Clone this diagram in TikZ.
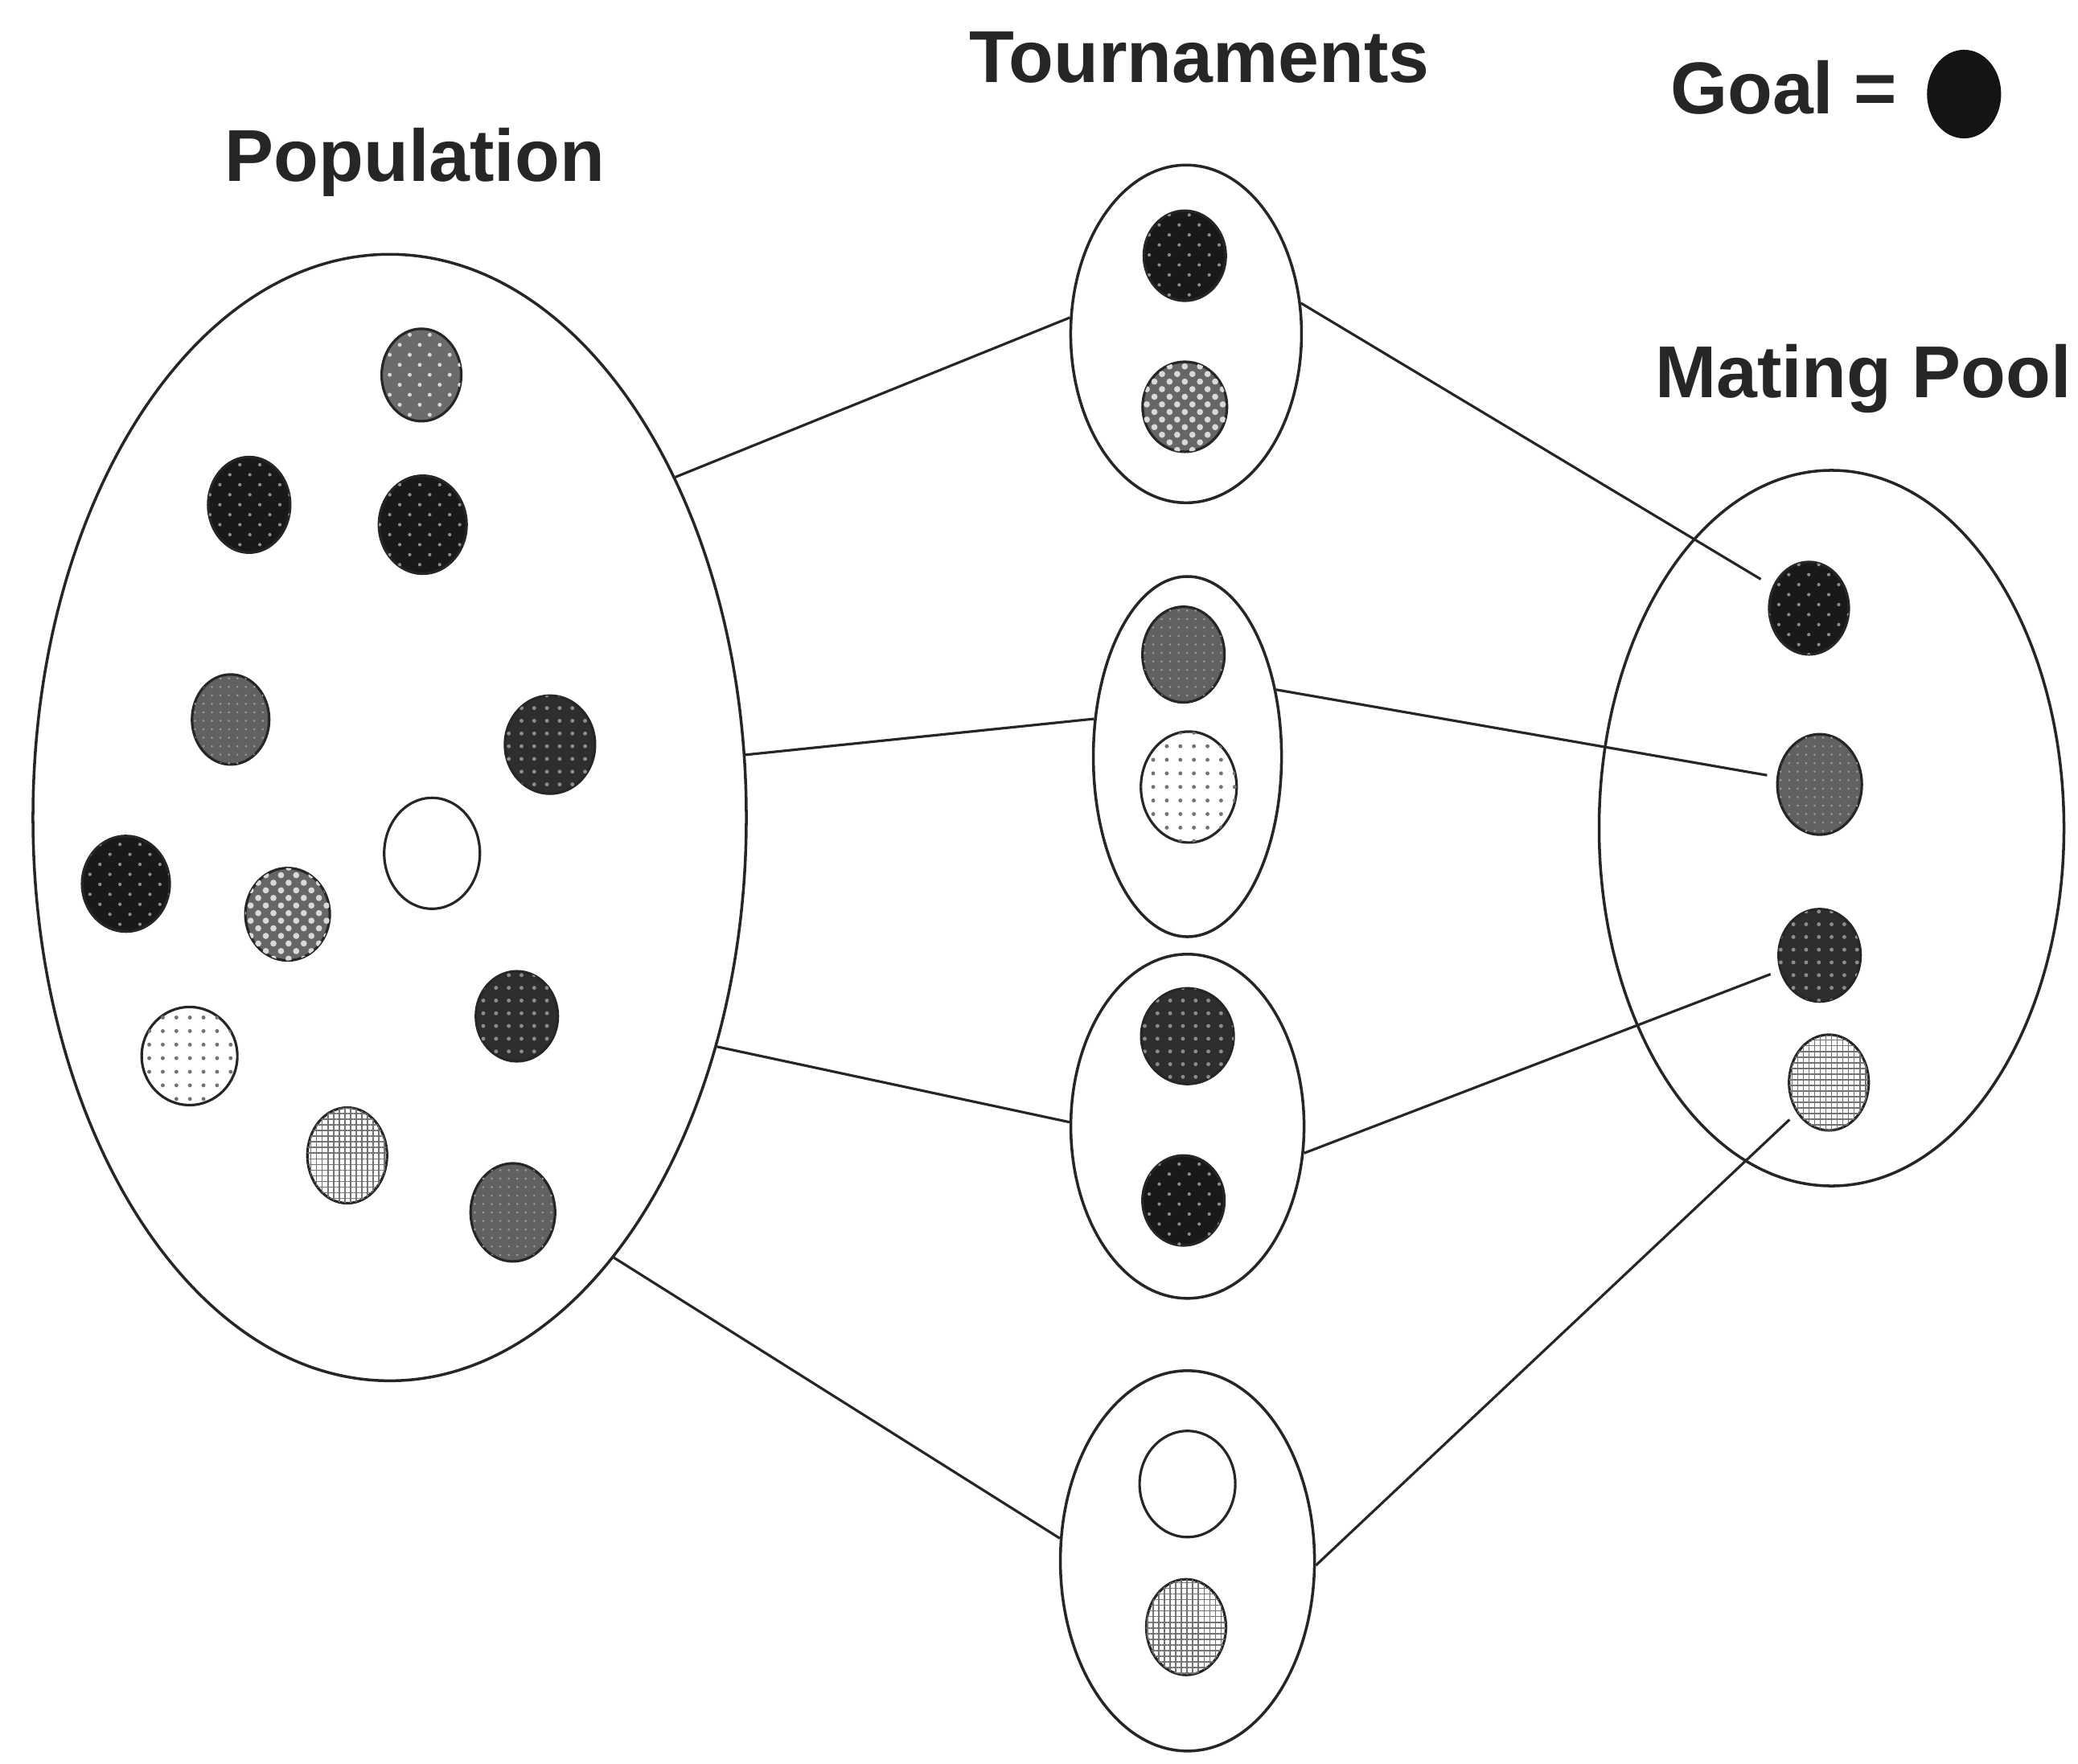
\documentclass[tikz,border=0pt]{standalone}
\usepackage{fontspec}
\setmainfont{Liberation Sans}
\usetikzlibrary{shapes.geometric,patterns.meta}

\tikzset{
  group/.style={ellipse, draw=black!85, line width=1pt, inner sep=0pt},
  sz/.style 2 args={minimum width=#1cm, minimum height=#2cm},
  token/.style={ellipse, draw=black!85, line width=0.9pt, inner sep=0pt,
    minimum width=1.05cm, minimum height=1.17cm},
  link/.style={draw=black!85, line width=0.9pt},
  title/.style={font=\fontsize{26}{30}\selectfont\bfseries, text=black!85,
    anchor=base, inner sep=0pt},
  % token fills
  tkB/.style={token, fill=black!90,
    postaction={pattern={Dots[radius=0.6pt,distance=5pt,angle=45]}, pattern color=black!45}},
  tkMD/.style={token, fill=black!58,
    postaction={pattern={Dots[radius=0.7pt,distance=5pt,angle=45]}, pattern color=white!85!black}},
  tkDG/.style={token, fill=black!82,
    postaction={pattern={Dots[radius=0.7pt,distance=4.5pt]}, pattern color=black!45}},
  tkM/.style={token, fill=black!62,
    postaction={pattern={Dots[radius=0.4pt,distance=3pt]}, pattern color=black!38}},
  tkC/.style={token, fill=black!60,
    postaction={pattern={Dots[radius=1.1pt,distance=3.8pt,angle=45]}, pattern color=white!85!black}},
  tkLG/.style={token, fill=white,
    postaction={pattern={Hatch[distance=2pt,line width=0.45pt]}, pattern color=black!55}},
  tkLD/.style={token, fill=white,
    postaction={pattern={Dots[radius=0.7pt,distance=4.8pt]}, pattern color=black!55}},
  tkW/.style={token, fill=white},
}

\begin{document}
\begin{tikzpicture}[x=0.01648cm, y=-0.01648cm]
  \useasboundingbox (0,0) rectangle (1568,1331);

  % titles
  \node[title] (tpop) at (313,137) {Population};
  \node[title] (ttour) at (905,62) {Tournaments};
  \node[title] (tmate) at (1406,300) {Mating Pool};
  \node[title] (tgoal) at (1346,86) {Goal =};
  \node[token, fill=black!92, draw=black!92, sz={0.89}{1.07}] (goaldot) at (1482,71) {};

  % groups
  \node[group, sz={8.87}{14.01}] (pop) at (294,617) {};
  \node[group, sz={2.87}{4.20}] (t1) at (895,252) {};
  \node[group, sz={2.34}{4.48}] (t2) at (896,571) {};
  \node[group, sz={2.90}{4.28}] (t3) at (896,850) {};
  \node[group, sz={3.16}{4.73}] (t4) at (896,1178) {};
  \node[group, sz={5.78}{8.90}] (mp) at (1382,625) {};

  % population members
  \node[tkMD, sz={0.99}{1.15}] (p1) at (318,283) {};
  \node[tkB,  sz={1.02}{1.19}] (p2) at (188,381) {};
  \node[tkB,  sz={1.09}{1.22}] (p3) at (319,396) {};
  \node[tkM,  sz={0.96}{1.12}] (p4) at (174,543) {};
  \node[tkDG, sz={1.12}{1.22}] (p5) at (415,562) {};
  \node[tkW,  sz={1.19}{1.38}] (p6) at (326,644) {};
  \node[tkB,  sz={1.09}{1.19}] (p7) at (95,667) {};
  \node[tkC,  sz={1.05}{1.15}] (p8) at (217,690) {};
  \node[tkDG, sz={1.02}{1.12}] (p9) at (390,767) {};
  \node[tkLD, sz={1.19}{1.22}] (p10) at (143,797) {};
  \node[tkLG, sz={0.99}{1.19}] (p11) at (262,872) {};
  \node[tkM,  sz={1.05}{1.22}] (p12) at (387,915) {};

  % tournament members
  \node[tkB,  sz={1.02}{1.12}] (a1) at (894,193) {};
  \node[tkC,  sz={1.05}{1.12}] (a2) at (894,307) {};
  \node[tkM,  sz={1.02}{1.19}] (b1) at (893,494) {};
  \node[tkLD, sz={1.19}{1.38}] (b2) at (897,594) {};
  \node[tkDG, sz={1.15}{1.19}] (c1) at (896,782) {};
  \node[tkB,  sz={1.02}{1.12}] (c2) at (893,906) {};
  \node[tkW,  sz={1.19}{1.32}] (d1) at (896,1120) {};
  \node[tkLG, sz={0.99}{1.19}] (d2) at (895,1228) {};

  % mating pool members
  \node[tkB,  sz={0.99}{1.15}] (m1) at (1365,459) {};
  \node[tkM,  sz={1.05}{1.25}] (m2) at (1373,592) {};
  \node[tkDG, sz={1.02}{1.15}] (m3) at (1373,721) {};
  \node[tkLG, sz={0.99}{1.19}] (m4) at (1380,817) {};

  % population to tournaments
  \draw[link] (pop.50) -- (t1.172);
  \draw[link] (pop.10.5) -- (t2.158);
  \draw[link] (pop.325.5) -- (t3.178.6);
  \draw[link] (pop.297.2) -- (t4.170);

  % tournament winners to mating pool
  \draw[link, shorten >=0.17cm] (t1.15.4) -- (m1);
  \draw[link, shorten >=0.12cm] (t2.37.5) -- (m2);
  \draw[link, shorten >=0.12cm] (t3.347.2) -- (m3);
  \draw[link, shorten >=0.12cm] (t4.358.8) -- (m4);
\end{tikzpicture}
\end{document}
